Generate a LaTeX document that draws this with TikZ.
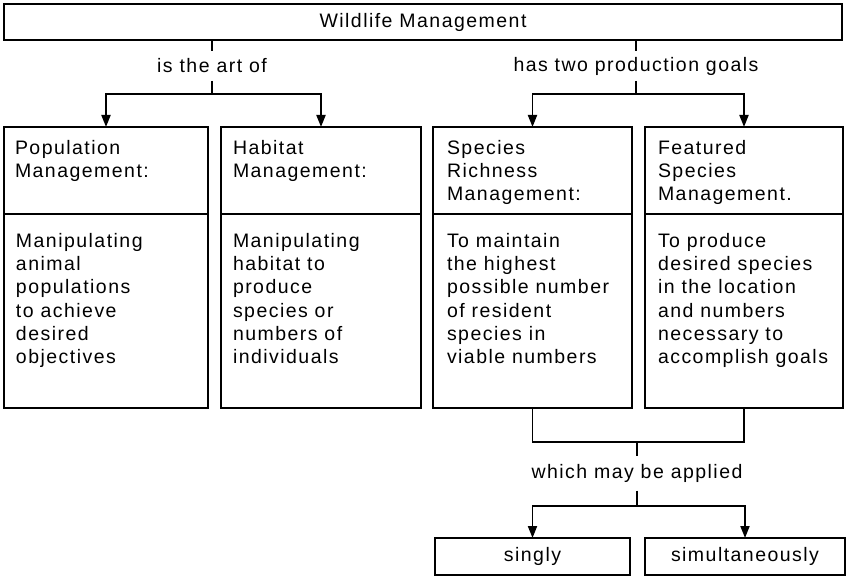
\documentclass[tikz,border=0pt]{standalone}
\usepackage{fontspec}
\setmainfont[LetterSpace=7.5]{Liberation Sans}
\usetikzlibrary{arrows.meta}
\begin{document}
\begin{tikzpicture}[x=1pt,y=-1pt,line width=1.9pt,
  box/.style={draw,rectangle,inner sep=0pt,outer sep=0pt},
  lbl/.style={inner sep=0pt,outer sep=0pt,font=\fontsize{19.5}{23.3}\selectfont},
  txt/.style={inner sep=0pt,outer sep=0pt,align=left,anchor=north west,font=\fontsize{19.5}{23.3}\selectfont},
  arr/.style={-{Triangle[length=12pt,width=9pt]}},
  hbox/.style={box,anchor=north west,minimum width=#1,minimum height=87pt},
  bbox/.style={box,anchor=north west,minimum width=#1,minimum height=194pt},
  sbox/.style={box,lbl,minimum width=#1,minimum height=37pt}]
\useasboundingbox (0,0) rectangle (848,577);

% top box
\node[box,lbl,minimum width=838pt,minimum height=36pt] (top) at (423,22) {Wildlife Management};

% labels
\node[lbl,minimum height=30pt] (isart) at (212,66) {is the art of};
\node[lbl,minimum height=30pt] (hastwo) at (636,66) {has two production goals};
\node[lbl,minimum height=35pt] (which) at (637,473) {which may be applied};

% headers and bodies
\node[hbox=204pt] (b1h) at (4,127) {};
\node[bbox=204pt] (b1b) at (4,214) {};
\node[hbox=200pt] (b2h) at (221,127) {};
\node[bbox=200pt] (b2b) at (221,214) {};
\node[hbox=199pt] (b3h) at (433,127) {};
\node[bbox=199pt] (b3b) at (433,214) {};
\node[hbox=198pt] (b4h) at (645,127) {};
\node[bbox=198pt] (b4b) at (645,214) {};

\node[txt] (t1h) at ([shift={(11,13)}]b1h.north west) {Population\\Management:};
\node[txt] (t1b) at ([shift={(12,19)}]b1b.north west) {Manipulating\\animal\\populations\\to achieve\\desired\\objectives};
\node[txt] (t2h) at ([shift={(12,13)}]b2h.north west) {Habitat\\Management:};
\node[txt] (t2b) at ([shift={(12,19)}]b2b.north west) {Manipulating\\habitat to\\produce\\species or\\numbers of\\individuals};
\node[txt] (t3h) at ([shift={(14,13)}]b3h.north west) {Species\\Richness\\Management:};
\node[txt] (t3b) at ([shift={(14,19)}]b3b.north west) {To maintain\\the highest\\possible number\\of resident\\species in\\viable numbers};
\node[txt] (t4h) at ([shift={(13,13)}]b4h.north west) {Featured\\Species\\Management.};
\node[txt] (t4b) at ([shift={(13,19)}]b4b.north west) {To produce\\desired species\\in the location\\and numbers\\necessary to\\accomplish goals};

% bottom boxes
\node[sbox=195pt] (singly) at (532.5,556.5) {singly};
\node[sbox=200pt] (simul) at (745,556.5) {simultaneously};

% junction coordinates
\coordinate (c1) at (212,94);
\coordinate (c2) at (636,94);
\coordinate (j1) at (637,442);
\coordinate (j2) at (637,506);

% connectors
\draw (top.south -| isart) -- (isart.north);
\draw (isart.south) -- (c1);
\draw[arr] (c1) -| (b1h.north);
\draw[arr] (c1) -| (b2h.north);

\draw (top.south -| hastwo) -- (hastwo.north);
\draw (hastwo.south) -- (c2);
\draw[arr] (c2) -| (b3h.north);
\draw[arr] (c2) -| (b4h.north);

\draw (b3b.south) |- (j1) -| (b4b.south);
\draw (j1) -- (which.north);
\draw (which.south) -- (j2);
\draw[arr] (j2) -| (singly.north);
\draw[arr] (j2) -| (simul.north);
\end{tikzpicture}
\end{document}
